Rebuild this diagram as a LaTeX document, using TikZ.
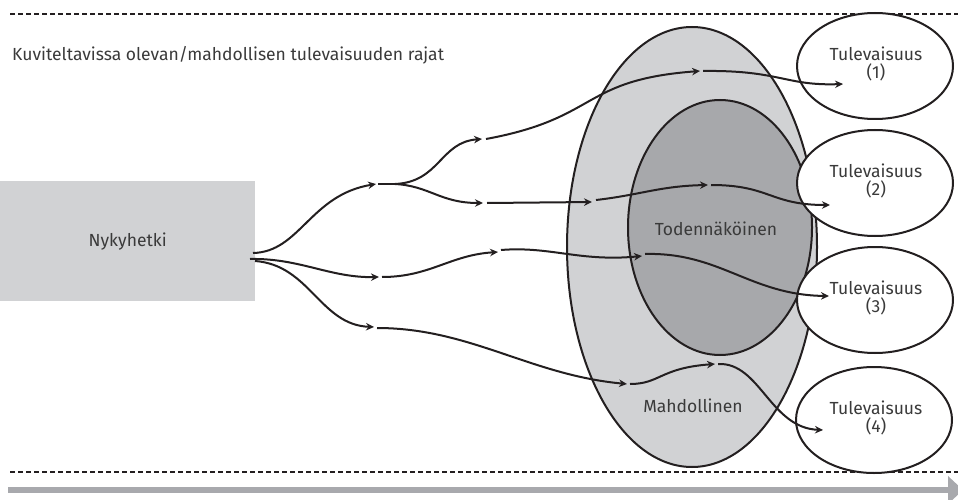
\documentclass[tikz,border=0pt]{standalone}
\usepackage{fontspec}
\setmainfont{Fira Sans}
\usetikzlibrary{arrows.meta,shapes.geometric}
\definecolor{txt}{HTML}{3A3A3A}
\definecolor{lgray}{HTML}{D1D2D4}
\definecolor{mgray}{HTML}{A7A8AB}
\definecolor{agray}{HTML}{A8A9AD}
\definecolor{ink}{HTML}{231F20}
\tikzset{
  lbl/.style={text=txt, font=\fontsize{17.5}{18.5}\selectfont, inner sep=0pt},
  flow/.style={draw=ink, line width=2pt, -{Stealth[length=8pt,width=7.5pt]}},
  stem/.style={draw=ink, line width=2pt},
  fut/.style={ellipse, draw=ink, line width=2pt, fill=white, minimum width=156pt, minimum height=106pt, inner sep=0pt},
  bound/.style={draw=ink, line width=1.2pt, dash pattern=on 5pt off 3pt},
}
\begin{document}
\begin{tikzpicture}[x=1pt,y=-1pt]
\useasboundingbox (0,0) rectangle (958,500);
\clip (0,0) rectangle (958,500);
% boundaries
\coordinate (t0) at (10,14); \coordinate (t1) at (958,14);
\coordinate (b0) at (10,472); \coordinate (b1) at (958,472);
\draw[bound] (t0) -- (t1);
\draw[bound] (b0) -- (b1);
\node[lbl, anchor=west] (limits) at (12,55) {Kuviteltavissa olevan/mahdollisen tulevaisuuden rajat};
% time arrow
\coordinate (g0) at (8,490); \coordinate (g1) at (950,490);
\draw[agray, line width=6pt] (g0) -- (g1);
\fill[agray] (948,476) -- (963,490) -- (948,504) -- cycle;
% now
\node[fill=lgray, minimum width=255pt, minimum height=120pt, inner sep=0pt, anchor=north west] (now) at (0,181) {};
\node[lbl] (nowt) at (now.center) {Nykyhetki};
% possible / probable
\node[ellipse, draw=ink, line width=2pt, fill=lgray, minimum width=250pt, minimum height=440pt, inner sep=0pt] (poss) at (692,247) {};
\node[ellipse, draw=ink, line width=2pt, fill=mgray, minimum width=184pt, minimum height=255pt, inner sep=0pt] (prob) at (720,227.5) {};
% futures
\node[fut] (f1) at (875,66) {};
\node[fut] (f2) at (875,183) {};
\node[fut] (f3) at (875,300) {};
\node[fut] (f4) at (874,420) {};
% waypoints
\coordinate (a0) at (253,253);
\coordinate (a1) at (376,184);
\coordinate (a1s) at (378,184);
\coordinate (a1e) at (395,184);
\coordinate (a2) at (482,139);
\coordinate (a2s) at (486,139);
\coordinate (a3) at (700,71);
\coordinate (a3s) at (703,71);
\coordinate (a4) at (843,84);
\coordinate (c2) at (483,203);
\coordinate (c2s) at (487,203);
\coordinate (c3) at (592,202);
\coordinate (c3s) at (596,200);
\coordinate (c4) at (708,185);
\coordinate (c4s) at (711,185);
\coordinate (c5) at (830,205);
\coordinate (b0p) at (250,259);
\coordinate (b1p) at (379,277);
\coordinate (b1s) at (382,277);
\coordinate (b2p) at (498,252);
\coordinate (b2s) at (501,250);
\coordinate (b3p) at (642,256);
\coordinate (b3s) at (645,254);
\coordinate (b4p) at (829,296);
\coordinate (d0) at (255,261);
\coordinate (d1) at (374,327);
\coordinate (d1s) at (377,328);
\coordinate (d2) at (627,384);
\coordinate (d2s) at (630,384);
\coordinate (d3) at (715,364);
\coordinate (d3s) at (718,364);
\coordinate (d4) at (823,430);
% paths
\draw[flow] (a0) .. controls (300,252) and (310,195) .. (a1);
\draw[stem] (a1s) -- (a1e);
\draw[flow] (a1e) .. controls (440,182) and (440,142) .. (a2);
\draw[flow] (a1e) .. controls (430,186) and (440,203) .. (c2);
\draw[flow] (a2s) .. controls (600,118) and (580,80) .. (a3);
\draw[flow] (a3s) .. controls (780,70) and (785,86) .. (a4);
\draw[flow] (c2s) -- (c3);
\draw[flow] (c3s) .. controls (640,195) and (660,186) .. (c4);
\draw[flow] (c4s) .. controls (770,185) and (770,205) .. (c5);
\draw[flow] (b0p) .. controls (300,258) and (330,278) .. (b1p);
\draw[flow] (b1s) .. controls (430,277) and (450,255) .. (b2p);
\draw[flow] (b2s) .. controls (550,246) and (580,262) .. (b3p);
\draw[flow] (b3s) .. controls (720,252) and (750,295) .. (b4p);
\draw[flow] (d0) .. controls (310,265) and (320,325) .. (d1);
\draw[flow] (d1s) .. controls (470,328) and (530,375) .. (d2);
\draw[flow] (d2s) .. controls (660,384) and (660,368) .. (d3);
\draw[flow] (d3s) .. controls (760,362) and (770,428) .. (d4);
% labels
\node[lbl] (probt) at (716,229) {Todennäköinen};
\node[lbl] (posst) at (693,406) {Mahdollinen};
\node[lbl, align=center] (f1t) at (876,64) {Tulevaisuus\\(1)};
\node[lbl, align=center] (f2t) at (876,181) {Tulevaisuus\\(2)};
\node[lbl, align=center] (f3t) at (876,298) {Tulevaisuus\\(3)};
\node[lbl, align=center] (f4t) at (876,418) {Tulevaisuus\\(4)};
\end{tikzpicture}
\end{document}
